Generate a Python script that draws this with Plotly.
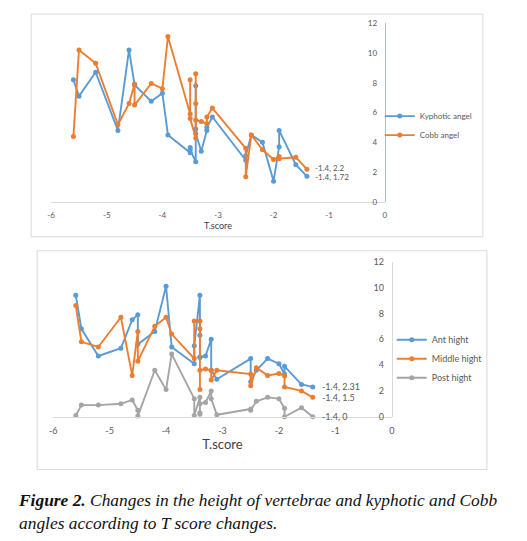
import plotly.graph_objects as go

W, H = 527, 541

# ---------------- data: top chart ----------------
t_score_top = [-5.6, -5.5, -5.2, -4.8, -4.6, -4.5, -4.5, -4.2, -4.0, -3.9,
               -3.5, -3.5, -3.5, -3.4, -3.4, -3.4, -3.4, -3.3, -3.2, -3.2,
               -3.1, -2.5, -2.5, -2.4, -2.2, -2.0, -1.9, -1.9, -1.6, -1.4]
kyphotic_angel = [8.2, 7.1, 8.7, 4.8, 10.2, 7.9, 7.85, 6.75, 7.3, 4.5,
                  3.3, 3.65, 3.5, 2.7, 7.8, 4.9, 4.6, 3.4, 4.8, 5.0,
                  5.7, 2.8, 3.1, 4.5, 4.0, 1.4, 3.7, 4.8, 2.5, 1.72]
cobb_angel = [4.4, 10.2, 9.3, 5.2, 6.6, 7.9, 6.5, 7.95, 7.6, 11.1,
              5.9, 8.2, 5.6, 4.3, 8.6, 6.6, 5.5, 5.4, 5.25, 5.7,
              6.3, 3.6, 1.7, 4.5, 3.5, 2.85, 3.05, 2.9, 3.0, 2.2]

# ---------------- data: bottom chart ----------------
t_score_bottom = [-5.6, -5.5, -5.2, -4.8, -4.6, -4.5, -4.5, -4.2, -4.0, -3.9,
                  -3.5, -3.5, -3.4, -3.4, -3.4, -3.4, -3.3, -3.2, -3.2, -3.1,
                  -2.5, -2.5, -2.4, -2.2, -2.0, -1.9, -1.9, -1.6, -1.4]
ant_hight = [9.4, 6.8, 4.7, 5.3, 7.5, 7.9, 5.6, 6.6, 10.1, 5.4,
             4.1, 5.5, 9.4, 6.3, 4.6, 4.6, 4.7, 6.0, 3.6, 2.9,
             4.5, 2.7, 3.6, 4.5, 4.1, 3.3, 3.9, 2.5, 2.31]
middle_hight = [8.6, 5.8, 5.4, 7.7, 3.2, 6.6, 4.3, 7.0, 7.7, 6.4,
                4.5, 7.4, 7.4, 6.8, 2.1, 3.6, 3.7, 3.6, 2.85, 3.6,
                3.3, 2.4, 3.8, 3.2, 3.35, 3.15, 2.3, 2.0, 1.5]
post_hight = [0.1, 0.9, 0.9, 1.0, 1.3, 0.5, 0.05, 3.6, 2.1, 4.85,
              1.4, 0.1, 1.5, 0.2, 0.3, 1.0, 1.1, 2.0, 1.4, 0.15,
              0.6, 0.5, 1.2, 1.5, 1.4, 0.65, 0.0, 0.7, 0.0]

x_tick_vals = [-6, -5, -4, -3, -2, -1, 0]
x_tick_text = ["-6", "-5", "-4", "-3", "-2", "-1", "0"]
y_tick_vals = [0, 2, 4, 6, 8, 10, 12]
y_tick_text = ["0", "2", "4", "6", "8", "10", "12"]

BLUE = "#5B9BD5"
ORANGE = "#ED7D31"
GRAY = "#A5A5A5"
TXT = "#595959"
FONT = "Lato"

# the page adds an 8px body margin and the shot is fitted back to the window;
# convert target pixel positions into paper fractions accordingly
SX = (W + 8) / W
SY = (H + 8) / H


def px_x(p):
    return (p * SX - 8) / W


def px_y(p):
    return 1 - (p * SY - 8) / H


fig = go.Figure()


def add_series(x, y, name, color, xa, ya, legend):
    fig.add_trace(go.Scatter(
        x=x, y=y, name=name, mode="lines+markers",
        line=dict(color=color, width=1.9),
        marker=dict(color=color, size=5, symbol="circle"),
        xaxis=xa, yaxis=ya, legend=legend, cliponaxis=False,
    ))


add_series(t_score_top, kyphotic_angel, "Kyphotic angel", BLUE, "x", "y", "legend")
add_series(t_score_top, cobb_angel, "Cobb angel", ORANGE, "x", "y", "legend")
add_series(t_score_bottom, ant_hight, "Ant hight", BLUE, "x2", "y2", "legend2")
add_series(t_score_bottom, middle_hight, "Middle hight", ORANGE, "x2", "y2", "legend2")
add_series(t_score_bottom, post_hight, "Post hight", GRAY, "x2", "y2", "legend2")

# data labels for the last points
for xs, ys, xa, ya, sz, shift, ysh in [
    (t_score_top, kyphotic_angel, "x", "y", 8, 6, -1),
    (t_score_top, cobb_angel, "x", "y", 8, 6, 1),
    (t_score_bottom, ant_hight, "x2", "y2", 9, 7, 0),
    (t_score_bottom, middle_hight, "x2", "y2", 9, 7, 0),
    (t_score_bottom, post_hight, "x2", "y2", 9, 7, 0),
]:
    fig.add_annotation(
        x=xs[-1], y=ys[-1], xref=xa, yref=ya,
        text=f"{xs[-1]:g}, {ys[-1]:g}", showarrow=False,
        xanchor="left", yanchor="middle", xshift=shift, yshift=ysh,
        font=dict(family=FONT, size=sz, color=TXT),
    )

# caption
fig.add_annotation(
    x=px_x(12), y=px_y(508), xref="paper", yref="paper",
    xanchor="left", yanchor="middle", align="left", showarrow=False,
    text="<b><i>Figure 2.</i></b><i> Changes in the height of vertebrae and kyphotic and Cobb</i><br>"
         "<i>angles according to T score changes.</i>",
    font=dict(family="Liberation Serif", size=17.4, color="#111111"),
)

# chart-area borders
for x0, y0, x1, y1 in [(27, 8, 478, 232), (33, 246, 482, 466)]:
    fig.add_shape(type="rect", xref="paper", yref="paper",
                  x0=px_x(x0), x1=px_x(x1), y0=px_y(y1), y1=px_y(y0),
                  line=dict(color="#d9d9d9", width=1), fillcolor="rgba(0,0,0,0)")


def xaxis_cfg(domain, anchor, tsize, title_size, standoff):
    return dict(
        domain=domain, anchor=anchor, range=[-6, 0],
        tickvals=x_tick_vals, ticktext=x_tick_text,
        showline=True, linecolor="#d9d9d9", linewidth=1,
        showgrid=False, zeroline=False,
        ticks="outside", ticklen=5, tickcolor="rgba(0,0,0,0)",
        tickfont=dict(family=FONT, size=tsize, color=TXT),
        title=dict(text="T.score", font=dict(family=FONT, size=title_size, color="#404040"),
                   standoff=standoff),
    )


def yaxis_cfg(domain, pos, tsize, linecolor):
    return dict(
        domain=domain, anchor="free", position=pos, side="left", range=[0, 12],
        tickvals=y_tick_vals, ticktext=y_tick_text,
        showline=True, linecolor=linecolor, linewidth=1,
        showgrid=False, zeroline=False,
        ticks="outside", ticklen=6, tickcolor="rgba(0,0,0,0)",
        tickfont=dict(family=FONT, size=tsize, color=TXT),
    )


fig.update_layout(
    width=W, height=H,
    margin=dict(l=0, r=0, t=0, b=0),
    paper_bgcolor="white", plot_bgcolor="white",
    xaxis=xaxis_cfg([px_x(47), px_x(380)], "y", 8, 9, 1),
    yaxis=yaxis_cfg([px_y(197), px_y(17)], px_x(380), 8, "#9DC3E6"),
    xaxis2=xaxis_cfg([px_x(49), px_x(387)], "y2", 9, 13, 5),
    yaxis2=yaxis_cfg([px_y(413), px_y(257)], px_x(387), 9, "#d9d9d9"),
    legend=dict(x=px_x(375), y=px_y(96), xanchor="left", yanchor="top",
                font=dict(family=FONT, size=8, color=TXT), bgcolor="rgba(0,0,0,0)",
                tracegroupgap=0, itemwidth=30),
    legend2=dict(x=px_x(387), y=px_y(321), xanchor="left", yanchor="top",
                 font=dict(family=FONT, size=9, color=TXT), bgcolor="rgba(0,0,0,0)",
                 tracegroupgap=0, itemwidth=30),
    showlegend=True,
)

fig.write_html("out.html")
